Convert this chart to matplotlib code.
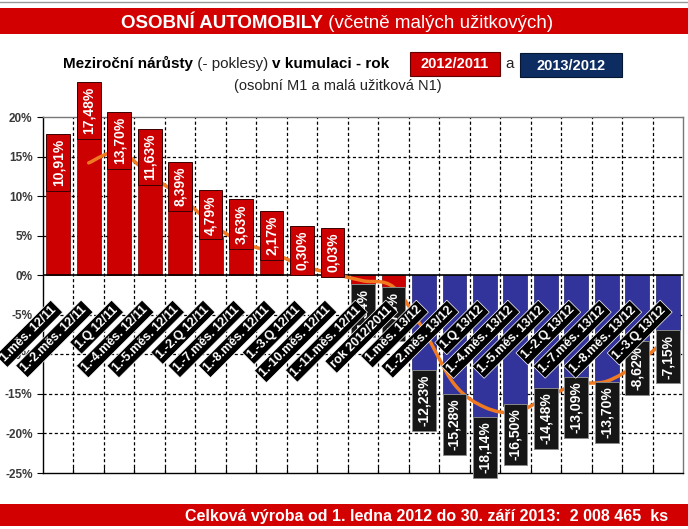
import matplotlib
matplotlib.use('Agg')
import matplotlib.pyplot as plt
from matplotlib.patches import Rectangle, PathPatch
from matplotlib.path import Path

W, H = 688, 529

categories = ['1.měs. 12/11', '1.-2.měs. 12/11', '1.Q 12/11', '1.-4.měs. 12/11',
              '1.-5.měs. 12/11', '1.-2.Q 12/11', '1.-7.měs. 12/11', '1.-8.měs. 12/11',
              '1.-3.Q 12/11', '1.-10.měs. 12/11', '1.-11.měs. 12/11', 'rok 2012/2011',
              '1.měs. 13/12', '1.-2.měs. 13/12', '1.Q 13/12', '1.-4.měs. 13/12',
              '1.-5.měs. 13/12', '1.-2.Q 13/12', '1.-7.měs. 13/12', '1.-8.měs. 13/12',
              '1.-3.Q 13/12']
values_2012 = [10.91, 17.48, 13.70, 11.63, 8.39, 4.79, 3.63, 2.17, 0.30, 0.03, -1.34, -1.73]
values_2013 = [-12.23, -15.28, -18.14, -16.50, -14.48, -13.09, -13.70, -8.62, -7.15]
# orange trend line (starts at 2nd category)
trend = [14.2, 15.6, 12.7, 10.0, 6.6, 4.2, 2.9, 1.2, 0.2, -0.7, -1.5,
         -7.0, -13.8, -16.7, -17.3, -15.5, -13.8, -13.4, -11.2, -7.9]
yticks = [20, 15, 10, 5, 0, -5, -10, -15, -20, -25]

RED = '#cc0000'
BLUE = '#33339c'
NAVY = '#0d2d62'
ORANGE = '#f07a22'
MAIN = ['Liberation Sans', 'DejaVu Sans']
NARROW = ['Liberation Sans Narrow', 'Liberation Sans', 'DejaVu Sans']

plt.rcParams['font.family'] = MAIN

fig = plt.figure(figsize=(W / 100, H / 100), dpi=100)
ax = fig.add_axes([43 / W, 1 - 473 / H, (683 - 43) / W, (473 - 117) / H])

n12 = len(values_2012)
x12 = list(range(n12))
x13 = list(range(n12, n12 + len(values_2013)))

# grid
for y in yticks[1:-1]:
    if y != 0:
        ax.axhline(y, color='black', lw=0.9, ls=(0, (2.5, 2)), zorder=0)
for k in range(1, len(categories)):
    ax.axvline(k - 0.5, color='black', lw=0.9, ls=(0, (2.5, 2)), zorder=0)

ax.bar(x12, values_2012, width=0.78, color=RED, edgecolor='#7a0000', lw=0.5, zorder=2)
ax.bar(x13, values_2013, width=0.78, color=BLUE, edgecolor='#20206a', lw=0.5, zorder=2)
ax.axhline(0, color='black', lw=1.2, zorder=2.5)

# smoothed trend line
pts = [(i + 1, v) for i, v in enumerate(trend)]
verts = [pts[0]]
codes = [Path.MOVETO]
for i in range(len(pts) - 1):
    p0 = pts[i - 1] if i > 0 else pts[i]
    p1, p2 = pts[i], pts[i + 1]
    p3 = pts[i + 2] if i + 2 < len(pts) else p2
    c1 = (p1[0] + (p2[0] - p0[0]) / 6, p1[1] + (p2[1] - p0[1]) / 6)
    c2 = (p2[0] - (p3[0] - p1[0]) / 6, p2[1] - (p3[1] - p1[1]) / 6)
    verts += [c1, c2, p2]
    codes += [Path.CURVE4] * 3
ax.add_patch(PathPatch(Path(verts, codes), fill=False, edgecolor=ORANGE, lw=2.5,
                       zorder=3, capstyle='round'))


def fmt(v):
    return ('%.2f%%' % v).replace('.', ',')


for xs, vals in ((x12, values_2012), (x13, values_2013)):
    for x, v in zip(xs, vals):
        pos = v >= 0
        ax.text(x, v + (0.35 if pos else -0.35), fmt(v), rotation=90, ha='center',
                va='bottom' if pos else 'top', color='white', fontsize=10,
                fontweight='bold', family=NARROW, zorder=5, clip_on=False,
                bbox=dict(boxstyle='square,pad=0.35', fc=RED if pos else '#161616',
                          ec='#3a0000' if pos else '#8a8a8a', lw=0.7))

for i, lab in enumerate(categories):
    ax.text(i - 0.25, -3.6, lab, rotation=45, rotation_mode='anchor', ha='right', va='top',
            color='white', fontsize=9, fontweight='bold', family=NARROW, zorder=6,
            bbox=dict(boxstyle='square,pad=0.2', fc='black', ec='white', lw=0.5))

ax.set_xlim(-0.5, len(categories) - 0.5)
ax.set_ylim(-25, 20)
ax.set_yticks(yticks)
ax.set_yticklabels(['%d%%' % t for t in yticks], fontsize=8.5, fontweight='bold', color='#3a3a3a')
ax.set_xticks([k - 0.5 for k in range(1, len(categories))])
ax.set_xticklabels([])
ax.tick_params(axis='x', direction='in', length=4, width=0.8)
ax.tick_params(axis='y', direction='out', length=4, width=0.8)
for s in ('left', 'bottom'):
    ax.spines[s].set_color('black')
    ax.spines[s].set_linewidth(1.0)
for s in ('top', 'right'):
    ax.spines[s].set_color('#777777')
    ax.spines[s].set_linewidth(1.0)


def fx(px):
    return px / W


def fy(py):
    return 1 - py / H


def band(x0, y0, x1, y1, color, ec='none'):
    fig.patches.append(Rectangle((fx(x0), fy(y1)), (x1 - x0) / W, (y1 - y0) / H,
                                 transform=fig.transFigure, fc=color, ec=ec, lw=0.8, zorder=0))


# header and footer bands
band(0, 8, W, 34, '#d20000')
band(0, 504, W, 526, '#d20000')
fig.add_artist(plt.Line2D([0, 1], [fy(2), fy(2)], color='#999999', lw=1, transform=fig.transFigure))

renderer = fig.canvas.get_renderer()


def row(pieces, x0, y):
    x = x0
    arts = []
    for txt, weight, size, col in pieces:
        t = fig.text(fx(x), fy(y), txt, fontweight=weight, fontsize=size, color=col,
                     ha='left', va='baseline')
        x += t.get_window_extent(renderer).width
        arts.append(t)
    return x, arts


def centered(pieces, cx, y):
    width, arts = row(pieces, 0, y)
    for a in arts:
        a.remove()
    return row(pieces, cx - width / 2, y)


centered([('OSOBNÍ AUTOMOBILY', 'bold', 13.5, 'white'),
          (' (včetně malých užitkových)', 'normal', 13.5, 'white')], 337, 28)

row([('Meziroční nárůsty', 'bold', 11, 'black'),
     (' (- poklesy) ', 'normal', 11, '#222222'),
     ('v kumulaci - rok', 'bold', 11, 'black')], 63, 68)

band(410, 52, 500, 76, RED, ec='#600000')
fig.text(fx(455), fy(64.5), '2012/2011', ha='center', va='center', color='white',
         fontsize=10.5, fontweight='bold', family=NARROW)
fig.text(fx(510), fy(68), 'a', ha='center', va='baseline', fontsize=11, color='#222222')
band(520, 53, 622, 77, NAVY, ec='#061530')
fig.text(fx(571), fy(65.5), '2013/2012', ha='center', va='center', color='white',
         fontsize=10.5, fontweight='bold', family=NARROW)
fig.text(fx(338), fy(90), '(osobní M1 a malá užitková N1)', ha='center', va='baseline',
         fontsize=10.5, color='#222222')

fig.text(fx(668), fy(521), 'Celková výroba od 1. ledna 2012 do 30. září 2013:  2 008 465  ks',
         ha='right', va='baseline', fontsize=11.5, fontweight='bold', color='white')

fig.savefig('out.png', dpi=100)
